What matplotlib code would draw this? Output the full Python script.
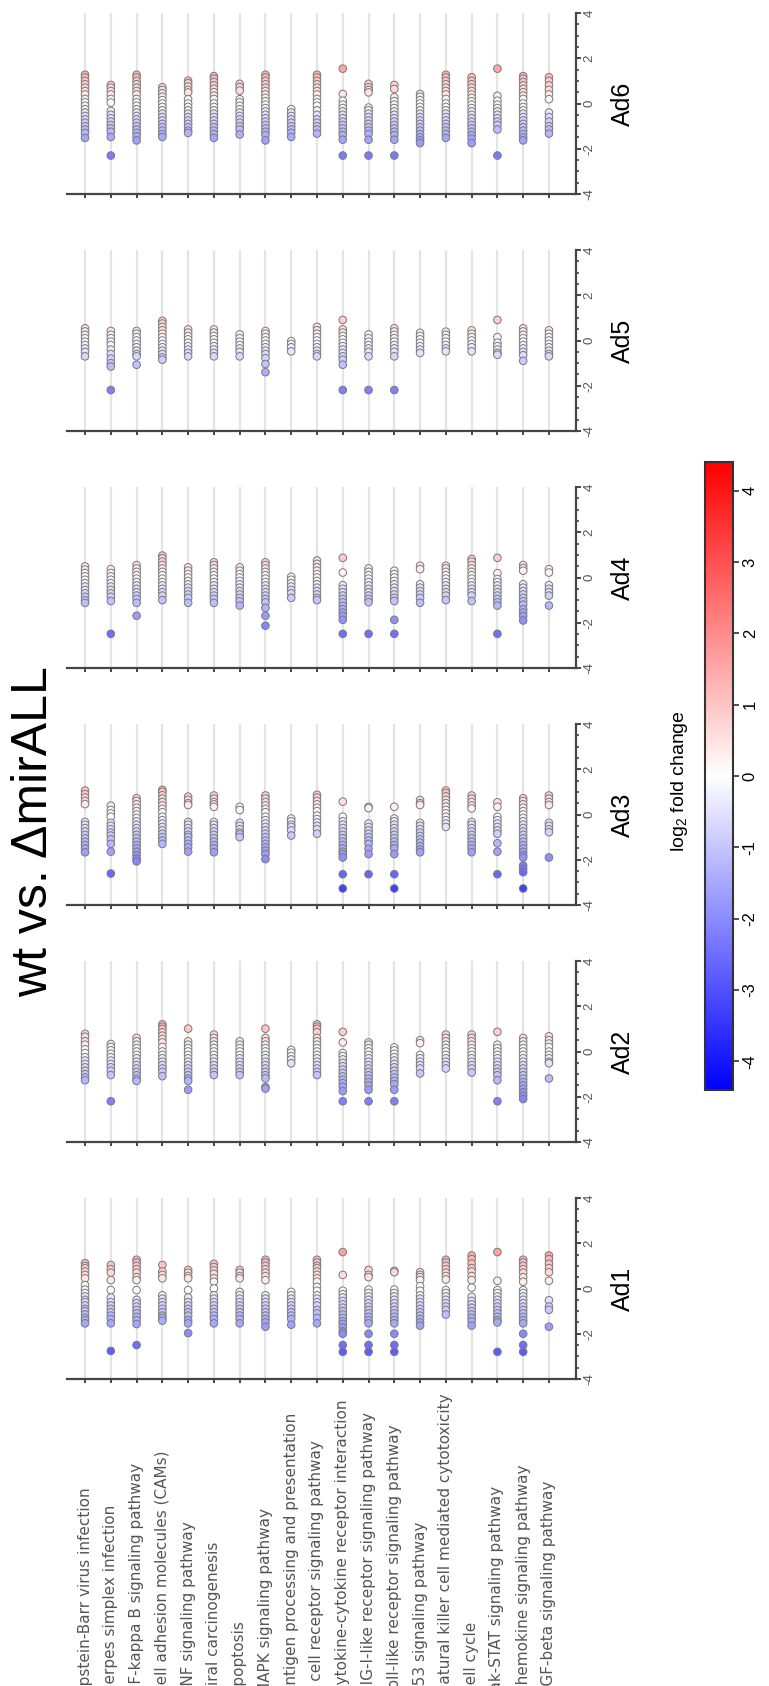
import matplotlib
matplotlib.use('Agg')
import matplotlib.pyplot as plt
from matplotlib import cm, colors
from matplotlib.ticker import AutoMinorLocator
from matplotlib.transforms import blended_transform_factory

plt.rcParams['font.family'] = ['Liberation Sans', 'DejaVu Sans']
plt.rcParams['mathtext.fontset'] = 'custom'
plt.rcParams['mathtext.rm'] = 'Liberation Sans'

# KEGG pathways, one column per pathway in every panel
pathways = [
    'Epstein-Barr virus infection', 'Herpes simplex infection',
    'NF-kappa B signaling pathway', 'Cell adhesion molecules (CAMs)',
    'TNF signaling pathway', 'Viral carcinogenesis', 'Apoptosis',
    'MAPK signaling pathway', 'Antigen processing and presentation',
    'T cell receptor signaling pathway', 'Cytokine-cytokine receptor interaction',
    'RIG-I-like receptor signaling pathway', 'Toll-like receptor signaling pathway',
    'p53 signaling pathway', 'Natural killer cell mediated cytotoxicity',
    'Cell cycle', 'Jak-STAT signaling pathway', 'Chemokine signaling pathway',
    'TGF-beta signaling pathway',
]
panels = ['Ad1', 'Ad2', 'Ad3', 'Ad4', 'Ad5', 'Ad6']

# log2 fold change of the genes in each pathway
ad1 = [
    [1.12, 1.0, 0.9, 0.75, 0.6, 0.45, 0.15, -0.05, -0.2, -0.35, -0.5, -0.6, -0.75, -0.9, -1.0, -1.15, -1.3, -1.4, -1.54],
    [1.04, 0.85, 0.7, 0.37, -0.07, -0.4, -0.6, -0.75, -0.9, -1.05, -1.2, -1.35, -1.54, -2.76],
    [1.27, 1.15, 1.0, 0.85, 0.7, 0.5, 0.37, -0.07, -0.5, -0.65, -0.8, -0.95, -1.1, -1.25, -1.4, -1.57, -2.5],
    [1.04, 0.75, 0.6, 0.45, -0.3, -0.45, -0.6, -0.75, -0.9, -1.05, -1.2, -1.3, -1.42],
    [0.82, 0.7, 0.55, 0.45, -0.07, -0.4, -0.6, -0.75, -0.9, -1.05, -1.2, -1.4, -1.54, -1.97],
    [1.09, 0.95, 0.8, 0.65, 0.45, 0.3, 0.0, -0.3, -0.45, -0.6, -0.75, -0.9, -1.05, -1.2, -1.35, -1.54],
    [0.82, 0.7, 0.55, 0.45, -0.15, -0.3, -0.45, -0.6, -0.75, -0.9, -1.05, -1.2, -1.35, -1.54],
    [1.27, 1.15, 1.0, 0.85, 0.7, 0.55, 0.37, -0.3, -0.45, -0.6, -0.75, -0.9, -1.05, -1.2, -1.35, -1.5, -1.69],
    [-0.15, -0.3, -0.45, -0.6, -0.75, -0.9, -1.05, -1.2, -1.35, -1.6],
    [1.27, 1.15, 1.0, 0.9, 0.75, 0.6, 0.45, 0.3, 0.07, -0.1, -0.3, -0.45, -0.6, -0.75, -0.95, -1.1, -1.3, -1.54],
    [1.61, 0.6, -0.1, -0.25, -0.4, -0.55, -0.7, -0.85, -1.0, -1.15, -1.3, -1.45, -1.57, -1.72, -1.9, -2.0, -2.5, -2.8],
    [0.82, 0.6, 0.5, -0.05, -0.2, -0.35, -0.5, -0.65, -0.8, -0.95, -1.1, -1.25, -1.4, -1.54, -2.0, -2.5, -2.8],
    [0.78, 0.72, -0.05, -0.2, -0.35, -0.5, -0.65, -0.8, -0.95, -1.1, -1.25, -1.4, -1.54, -2.0, -2.5, -2.8],
    [0.72, 0.6, 0.5, 0.37, 0.1, -0.1, -0.3, -0.45, -0.6, -0.75, -0.9, -1.05, -1.2, -1.35, -1.5, -1.64],
    [1.27, 1.15, 1.0, 0.85, 0.7, 0.55, 0.4, -0.07, -0.2, -0.35, -0.5, -0.65, -0.8, -0.95, -1.15],
    [1.46, 1.3, 1.1, 0.9, 0.75, 0.55, 0.37, 0.04, -0.37, -0.55, -0.7, -0.85, -1.0, -1.15, -1.3, -1.45, -1.64],
    [1.61, 0.34, -0.07, -0.2, -0.35, -0.5, -0.65, -0.8, -0.95, -1.1, -1.25, -1.4, -1.5, -2.8],
    [1.27, 1.15, 1.0, 0.85, 0.7, 0.5, 0.3, -0.07, -0.2, -0.35, -0.5, -0.65, -0.8, -0.95, -1.1, -1.25, -1.4, -1.54, -2.0, -2.5, -2.8],
    [1.46, 1.3, 1.09, 0.9, 0.72, 0.34, -0.52, -0.8, -0.94, -1.69],
]
ad2 = [
    [0.78, 0.65, 0.45, 0.3, 0.1, -0.07, -0.25, -0.4, -0.55, -0.7, -0.85, -1.0, -1.15, -1.27],
    [0.33, 0.2, 0.05, -0.1, -0.25, -0.4, -0.55, -0.7, -0.85, -1.04, -2.2],
    [0.6, 0.45, 0.3, 0.15, 0.0, -0.15, -0.3, -0.45, -0.6, -0.75, -0.9, -1.05, -1.2, -1.3],
    [1.2, 1.1, 1.0, 0.85, 0.7, 0.55, 0.4, 0.2, 0.0, -0.15, -0.3, -0.45, -0.6, -0.75, -0.9, -1.09],
    [1.01, 0.45, 0.3, 0.15, 0.0, -0.15, -0.3, -0.45, -0.6, -0.75, -0.9, -1.05, -1.2, -1.3, -1.69],
    [0.75, 0.6, 0.45, 0.3, 0.15, 0.0, -0.15, -0.3, -0.45, -0.6, -0.75, -0.9, -1.04],
    [0.45, 0.3, 0.15, 0.0, -0.15, -0.3, -0.45, -0.6, -0.75, -0.9, -1.04],
    [1.01, 0.6, 0.45, 0.3, 0.15, 0.0, -0.15, -0.3, -0.45, -0.6, -0.75, -0.9, -1.05, -1.19, -1.57, -1.64],
    [0.07, -0.05, -0.2, -0.35, -0.52],
    [1.2, 1.1, 1.0, 0.85, 0.6, 0.45, 0.3, 0.15, 0.0, -0.15, -0.3, -0.45, -0.6, -0.75, -0.9, -1.04],
    [0.87, 0.4, -0.07, -0.2, -0.35, -0.5, -0.65, -0.8, -0.95, -1.1, -1.25, -1.4, -1.55, -1.75, -2.2],
    [0.4, 0.3, 0.15, 0.0, -0.15, -0.3, -0.45, -0.6, -0.75, -0.9, -1.05, -1.2, -1.35, -1.5, -1.69, -2.2],
    [0.18, 0.05, -0.1, -0.25, -0.4, -0.55, -0.7, -0.85, -1.0, -1.15, -1.3, -1.45, -1.69, -2.2],
    [0.5, 0.37, -0.15, -0.3, -0.45, -0.6, -0.75, -0.97],
    [0.75, 0.6, 0.45, 0.3, 0.15, 0.0, -0.15, -0.3, -0.45, -0.6, -0.75],
    [0.75, 0.6, 0.45, 0.3, 0.15, 0.0, -0.15, -0.3, -0.45, -0.6, -0.75, -0.93],
    [0.87, 0.3, 0.15, 0.0, -0.15, -0.3, -0.45, -0.6, -0.75, -0.9, -1.05, -1.27, -2.2],
    [0.6, 0.45, 0.3, 0.15, 0.0, -0.15, -0.3, -0.45, -0.6, -0.75, -0.9, -1.05, -1.2, -1.35, -1.5, -1.65, -1.8, -1.95, -2.1],
    [0.67, 0.5, 0.35, 0.2, 0.0, -0.15, -0.3, -0.45, -0.52, -1.19],
]
ad3 = [
    [1.06, 0.9, 0.75, 0.6, 0.46, -0.33, -0.45, -0.6, -0.75, -0.9, -1.05, -1.2, -1.35, -1.5, -1.67],
    [0.39, 0.2, 0.05, -0.1, -0.37, -0.5, -0.65, -0.8, -0.93, -1.1, -1.3, -1.64, -2.61],
    [0.72, 0.6, 0.45, 0.3, 0.15, 0.0, -0.15, -0.3, -0.45, -0.6, -0.75, -0.9, -1.05, -1.2, -1.35, -1.5, -1.65, -1.8, -1.95, -2.07],
    [1.09, 1.0, 0.85, 0.7, 0.55, 0.4, 0.25, 0.1, -0.1, -0.25, -0.4, -0.55, -0.7, -0.85, -1.0, -1.15, -1.3],
    [0.79, 0.65, 0.5, 0.42, -0.33, -0.45, -0.6, -0.75, -0.9, -1.0, -1.15, -1.3, -1.45, -1.64],
    [0.84, 0.7, 0.55, 0.45, 0.34, -0.33, -0.45, -0.6, -0.75, -0.9, -1.05, -1.2, -1.35, -1.5, -1.67],
    [0.34, 0.2, -0.37, -0.5, -0.65, -0.8, -0.88, -1.0],
    [0.84, 0.7, 0.55, 0.4, 0.25, 0.1, -0.1, -0.25, -0.4, -0.55, -0.7, -0.85, -1.0, -1.15, -1.3, -1.45, -1.6, -1.75, -1.97],
    [-0.18, -0.3, -0.45, -0.55, -0.7, -0.93],
    [0.87, 0.75, 0.6, 0.45, 0.3, 0.15, -0.05, -0.2, -0.35, -0.5, -0.65, -0.85],
    [0.57, -0.1, -0.3, -0.45, -0.6, -0.75, -0.9, -1.05, -1.2, -1.35, -1.5, -1.65, -1.75, -1.9, -2.64, -3.27],
    [0.34, 0.28, -0.4, -0.55, -0.7, -0.85, -1.0, -1.15, -1.3, -1.52, -1.75, -2.64],
    [0.34, -0.18, -0.3, -0.45, -0.6, -0.75, -0.9, -1.05, -1.2, -1.35, -1.5, -1.75, -2.64, -3.27],
    [0.64, 0.5, 0.42, -0.37, -0.5, -0.65, -0.8, -0.95, -1.1, -1.25, -1.4, -1.55, -1.67],
    [1.06, 0.95, 0.8, 0.65, 0.5, 0.35, 0.2, 0.05, -0.1, -0.25, -0.4, -0.55],
    [0.84, 0.7, 0.55, 0.4, 0.27, -0.33, -0.45, -0.6, -0.75, -0.9, -1.05, -1.2, -1.35, -1.5, -1.67],
    [0.54, 0.34, -0.1, -0.25, -0.4, -0.55, -0.7, -0.85, -1.27, -1.64, -2.64],
    [0.72, 0.6, 0.45, 0.3, 0.15, 0.0, -0.15, -0.3, -0.45, -0.6, -0.75, -0.9, -1.05, -1.2, -1.35, -1.5, -1.65, -1.8, -1.9, -2.25, -2.4, -2.55, -3.27],
    [0.84, 0.7, 0.55, 0.42, -0.37, -0.5, -0.65, -0.78, -1.9],
]
ad4 = [
    [0.49, 0.35, 0.2, 0.05, -0.1, -0.25, -0.4, -0.55, -0.7, -0.85, -1.0, -1.12],
    [0.37, 0.2, 0.05, -0.1, -0.25, -0.4, -0.55, -0.7, -0.85, -1.04, -2.49],
    [0.55, 0.4, 0.25, 0.1, -0.05, -0.2, -0.35, -0.5, -0.65, -0.8, -0.95, -1.12, -1.69],
    [0.97, 0.85, 0.7, 0.55, 0.4, 0.25, 0.1, -0.05, -0.2, -0.35, -0.5, -0.65, -0.8, -1.0],
    [0.45, 0.3, 0.15, 0.0, -0.15, -0.3, -0.45, -0.6, -0.75, -0.9, -1.12],
    [0.67, 0.55, 0.4, 0.25, 0.1, -0.05, -0.2, -0.35, -0.5, -0.65, -0.8, -0.95, -1.12],
    [0.45, 0.3, 0.15, 0.0, -0.15, -0.3, -0.45, -0.6, -0.75, -0.9, -1.05, -1.24],
    [0.67, 0.55, 0.4, 0.25, 0.1, -0.05, -0.2, -0.35, -0.5, -0.65, -0.8, -0.95, -1.1, -1.34, -1.69, -2.13],
    [0.03, -0.1, -0.25, -0.4, -0.55, -0.7, -0.9],
    [0.75, 0.6, 0.45, 0.3, 0.15, 0.0, -0.15, -0.3, -0.45, -0.6, -0.75, -0.9, -1.0],
    [0.87, 0.22, -0.34, -0.5, -0.65, -0.8, -0.95, -1.1, -1.25, -1.4, -1.55, -1.7, -1.87, -2.49],
    [0.4, 0.25, 0.1, -0.05, -0.2, -0.35, -0.5, -0.65, -0.8, -0.95, -1.09, -2.49],
    [0.3, 0.15, 0.0, -0.15, -0.3, -0.45, -0.6, -0.75, -0.9, -1.04, -1.87, -2.49],
    [0.52, 0.37, -0.3, -0.45, -0.6, -0.75, -0.9, -1.12],
    [0.52, 0.4, 0.25, 0.1, -0.05, -0.2, -0.35, -0.5, -0.65, -0.8, -1.0],
    [0.82, 0.7, 0.55, 0.4, 0.25, 0.1, -0.05, -0.2, -0.35, -0.5, -0.65, -0.8, -1.04],
    [0.87, 0.19, -0.07, -0.2, -0.35, -0.5, -0.65, -0.8, -0.95, -1.1, -1.24, -2.49],
    [0.55, 0.42, 0.3, -0.3, -0.45, -0.6, -0.75, -0.9, -1.05, -1.2, -1.4, -1.55, -1.7, -1.9],
    [0.37, 0.22, -0.34, -0.5, -0.65, -0.8, -1.24],
]
ad5 = [
    [0.54, 0.4, 0.25, 0.1, -0.05, -0.2, -0.35, -0.5, -0.7],
    [0.42, 0.25, 0.1, -0.05, -0.2, -0.4, -0.6, -0.8, -1.0, -1.15, -2.19],
    [0.42, 0.3, 0.15, 0.0, -0.15, -0.3, -0.45, -0.6, -0.7, -1.07],
    [0.87, 0.75, 0.6, 0.45, 0.3, 0.15, 0.0, -0.15, -0.3, -0.45, -0.6, -0.75, -0.85],
    [0.49, 0.35, 0.2, 0.05, -0.1, -0.25, -0.4, -0.55, -0.7],
    [0.49, 0.35, 0.2, 0.05, -0.1, -0.25, -0.4, -0.55, -0.7],
    [0.27, 0.1, -0.05, -0.2, -0.35, -0.5, -0.7],
    [0.42, 0.3, 0.15, 0.0, -0.15, -0.3, -0.45, -0.6, -0.78, -1.04, -1.4],
    [-0.03, -0.15, -0.3, -0.48],
    [0.6, 0.45, 0.3, 0.15, 0.0, -0.15, -0.3, -0.45, -0.6, -0.7],
    [0.91, 0.49, 0.35, 0.2, 0.05, -0.1, -0.25, -0.4, -0.55, -0.7, -0.85, -1.07, -2.19],
    [0.27, 0.1, -0.05, -0.2, -0.35, -0.5, -0.7, -2.19],
    [0.54, 0.4, 0.25, 0.1, -0.05, -0.2, -0.35, -0.5, -0.7, -2.19],
    [0.34, 0.2, 0.05, -0.1, -0.25, -0.4, -0.55],
    [0.39, 0.25, 0.1, -0.05, -0.2, -0.35, -0.48],
    [0.45, 0.3, 0.15, 0.0, -0.15, -0.3, -0.48],
    [0.91, 0.15, -0.1, -0.25, -0.4, -0.55, -0.63],
    [0.54, 0.4, 0.25, 0.1, -0.05, -0.2, -0.35, -0.5, -0.65, -0.9],
    [0.45, 0.3, 0.15, 0.0, -0.15, -0.3, -0.45, -0.6, -0.7],
]
ad6 = [
    [1.27, 1.15, 1.0, 0.85, 0.7, 0.55, 0.4, 0.2, 0.05, -0.1, -0.25, -0.4, -0.55, -0.7, -0.85, -1.0, -1.15, -1.3, -1.52],
    [0.82, 0.7, 0.55, 0.4, 0.2, 0.04, -0.33, -0.5, -0.65, -0.8, -0.95, -1.1, -1.25, -1.48, -2.3],
    [1.27, 1.15, 1.0, 0.85, 0.7, 0.55, 0.4, 0.2, 0.05, -0.1, -0.25, -0.4, -0.55, -0.7, -0.85, -1.0, -1.15, -1.3, -1.45, -1.63],
    [0.72, 0.6, 0.45, 0.3, 0.15, 0.0, -0.15, -0.3, -0.45, -0.6, -0.75, -0.9, -1.05, -1.2, -1.35, -1.48],
    [1.01, 0.9, 0.75, 0.6, 0.49, 0.19, 0.0, -0.15, -0.3, -0.45, -0.6, -0.75, -0.9, -1.05, -1.2, -1.3],
    [1.21, 1.1, 0.95, 0.8, 0.65, 0.5, 0.35, 0.2, 0.0, -0.15, -0.3, -0.45, -0.6, -0.75, -0.9, -1.05, -1.2, -1.35, -1.52],
    [0.87, 0.72, 0.57, 0.19, 0.05, -0.1, -0.25, -0.4, -0.55, -0.7, -0.85, -1.0, -1.15, -1.37],
    [1.27, 1.15, 1.0, 0.85, 0.7, 0.55, 0.4, 0.25, 0.1, -0.05, -0.2, -0.35, -0.5, -0.65, -0.8, -0.95, -1.1, -1.25, -1.4, -1.63],
    [-0.25, -0.4, -0.55, -0.7, -0.85, -1.0, -1.15, -1.3, -1.48],
    [1.27, 1.15, 1.0, 0.85, 0.7, 0.55, 0.4, 0.2, 0.05, -0.1, -0.3, -0.5, -0.7, -0.85, -1.0, -1.15, -1.33],
    [1.54, 0.42, 0.12, -0.05, -0.2, -0.35, -0.5, -0.65, -0.8, -0.95, -1.1, -1.25, -1.4, -1.6, -2.3],
    [0.87, 0.72, 0.6, 0.49, -0.18, -0.3, -0.45, -0.6, -0.75, -0.9, -1.05, -1.2, -1.35, -1.6, -2.3],
    [0.82, 0.64, 0.27, 0.1, -0.05, -0.2, -0.35, -0.5, -0.65, -0.8, -0.95, -1.1, -1.25, -1.4, -1.6, -2.3],
    [0.42, 0.3, 0.15, 0.0, -0.15, -0.3, -0.45, -0.6, -0.75, -0.9, -1.05, -1.2, -1.35, -1.5, -1.63, -1.75],
    [1.27, 1.15, 1.0, 0.85, 0.7, 0.55, 0.4, 0.2, 0.0, -0.15, -0.3, -0.45, -0.6, -0.75, -0.9, -1.05, -1.2, -1.35, -1.52],
    [1.16, 1.0, 0.85, 0.7, 0.55, 0.4, 0.25, 0.1, -0.05, -0.2, -0.35, -0.5, -0.65, -0.8, -0.95, -1.1, -1.25, -1.4, -1.55, -1.75],
    [1.54, 0.34, 0.12, -0.05, -0.2, -0.35, -0.5, -0.65, -0.8, -0.95, -1.15, -2.3],
    [1.21, 1.1, 0.95, 0.8, 0.65, 0.5, 0.35, 0.2, 0.0, -0.15, -0.3, -0.45, -0.6, -0.75, -0.9, -1.05, -1.2, -1.35, -1.5, -1.63],
    [1.16, 1.0, 0.8, 0.6, 0.4, 0.19, -0.4, -0.6, -0.8, -1.0, -1.15, -1.33],
]
panel_values = [ad1, ad2, ad3, ad4, ad5, ad6]

value_ticks = [-4, -2, 0, 2, 4]
cbar_ticks = [-4, -3, -2, -1, 0, 1, 2, 3, 4]
lfc_limit = 4.4

W, H = 769, 1686
fig = plt.figure(figsize=(W / 100, H / 100), dpi=100)


def box(left, top, right, bottom):
    # pixel box -> figure fraction rect
    return [left / W, 1 - bottom / H, (right - left) / W, (bottom - top) / H]


norm = colors.Normalize(-lfc_limit, lfc_limit)
cmap = plt.get_cmap('bwr')
axis_col = '#454545'

for k, (name, vals) in enumerate(zip(panels, panel_values)):
    top = 1198 - 237 * k
    ax = fig.add_axes(box(67, top, 576, top + 181))
    for i, v in enumerate(vals):
        ax.axvline(i, color='#e4e4e4', lw=1.6, zorder=0)
        ax.scatter([i] * len(v), v, c=v, cmap=cmap, norm=norm, s=30,
                   edgecolors='#7a7a7a', linewidths=0.7, zorder=3)
    ax.set_xlim(-0.7, len(pathways) - 1 + 1.05)
    ax.set_ylim(-4, 4)

    for side in ['left', 'top']:
        ax.spines[side].set_visible(False)
    for side in ['bottom', 'right']:
        ax.spines[side].set_color(axis_col)
        ax.spines[side].set_linewidth(1.6)

    ax.yaxis.tick_right()
    ax.set_yticks(value_ticks)
    ax.set_yticklabels([str(t) for t in value_ticks], rotation=90, va='center')
    ax.yaxis.set_minor_locator(AutoMinorLocator(4))
    ax.tick_params(axis='y', which='major', direction='out', length=3.5, width=1.4,
                   color=axis_col, labelsize=9.5, labelcolor='#555555', pad=2)
    ax.tick_params(axis='y', which='minor', direction='out', length=2, width=1.2,
                   color=axis_col)
    ax.set_xticks(range(len(pathways)))
    ax.set_xticklabels([])
    ax.tick_params(axis='x', direction='out', length=3, width=1.4, color=axis_col)

    ax.text((623 - 67) / 509, 0.5, name, transform=ax.transAxes, rotation=90,
            ha='center', va='center', fontsize=18)

    if k == 0:
        trans = blended_transform_factory(ax.transData, fig.transFigure)
        for i, p in enumerate(pathways):
            ax.text(i, -9 / H, p, transform=trans, rotation=90, ha='center',
                    va='bottom', fontsize=11, color='#555555', family='DejaVu Sans')

# colour bar
cax = fig.add_axes(box(705, 462, 733, 1090))
sm = cm.ScalarMappable(norm=norm, cmap=cmap)
cb = fig.colorbar(sm, cax=cax)
cb.set_ticks(cbar_ticks)
cax.set_yticklabels([str(t) for t in cbar_ticks], rotation=90, va='center')
cax.tick_params(length=4, width=1.2, color='#333333', labelsize=12, pad=3)
cb.outline.set_linewidth(1.5)
cb.outline.set_edgecolor('#333333')

fig.text(679 / W, 1 - 781 / H, r'log$_\mathregular{2}$ fold change', rotation=90,
         ha='center', va='center', fontsize=14)
fig.text(34 / W, 1 - 832 / H, 'wt vs. ΔmirALL', rotation=90,
         ha='center', va='center', fontsize=36)

fig.savefig('out.png', dpi=100)
